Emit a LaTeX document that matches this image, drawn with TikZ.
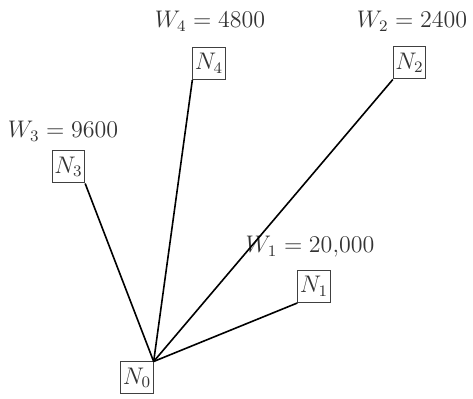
\documentclass[tikz,border=0pt]{standalone}
\begin{document}
\begin{tikzpicture}[x=0.5pt,y=-0.5pt,
  nodebox/.style={draw=black!75,line width=0.5pt,rectangle,minimum width=16pt,minimum height=16pt,inner sep=1pt,text=black!80,font=\fontsize{12}{14}\selectfont},
  wlabel/.style={anchor=base,inner sep=0pt,text=black!80,font=\fontsize{12}{14}\selectfont},
  link/.style={line width=0.8pt,black}]
\useasboundingbox (0,0) rectangle (473,399);
\node[nodebox] (n0) at (137,378) {$N_0$};
\node[nodebox] (n4) at (209,63.5) {$N_4$};
\node[nodebox] (n3) at (68.5,167) {$N_3$};
\node[nodebox] (n1) at (314,286.5) {$N_1$};
\node[nodebox] (n2) at (409.5,63) {$N_2$};
\node[wlabel] (w4) at (210,28) {$W_4 = 4800$};
\node[wlabel] (w2) at (412,28) {$W_2 = 2400$};
\node[wlabel] (w3) at (63,138) {$W_3 = 9600$};
\node[wlabel] (w1) at (310,253) {$W_1 = 20{,}000$};
\draw[link] (n0.north east) -- (n3.south east);
\draw[link] (n0.north east) -- (n4.south west);
\draw[link] (n0.north east) -- (n2.south west);
\draw[link] (n0.north east) -- (n1.south west);
\end{tikzpicture}
\end{document}
